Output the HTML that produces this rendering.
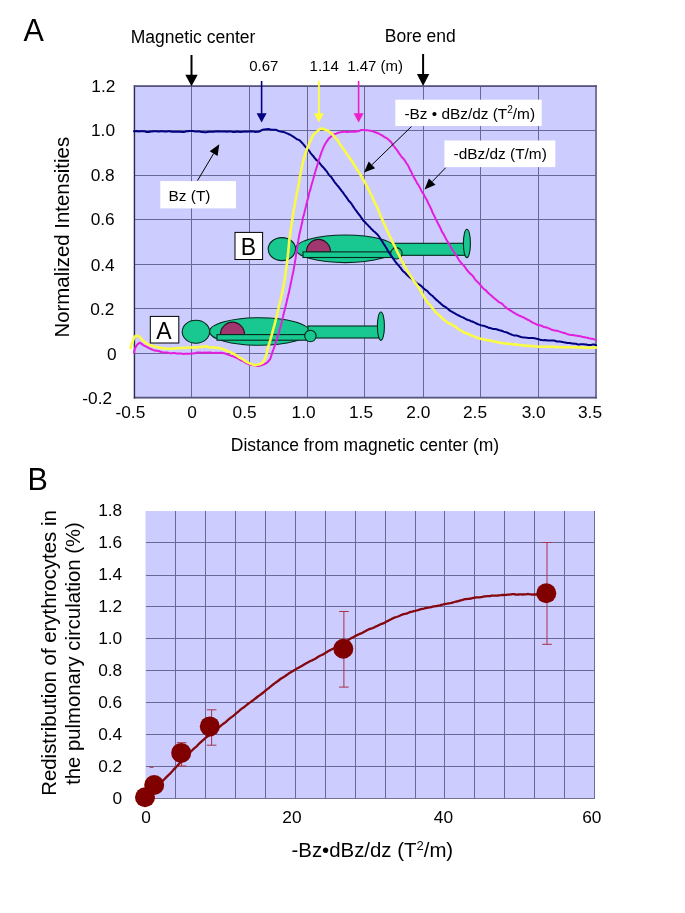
<!DOCTYPE html>
<html><head><meta charset="utf-8"><title>Figure</title>
<style>
html,body{margin:0;padding:0;background:#fff;}
body{width:685px;height:913px;overflow:hidden;}
svg{display:block;}
text{font-family:"Liberation Sans",Arial,Helvetica,sans-serif;fill:#000;}
.t16{font-size:17.3px;}
.t145{font-size:15px;}
</style></head><body>
<svg width="685" height="913" viewBox="0 0 685 913">
<rect width="685" height="913" fill="#fff"/>

<rect x="133.8" y="85.3" width="463.1" height="313.1" fill="#ccccff"/>
<g stroke="#26264e" stroke-width="1" opacity="0.6" shape-rendering="crispEdges">
<line x1="191.5" y1="86.1" x2="191.5" y2="397.7"/>
<line x1="249.5" y1="86.1" x2="249.5" y2="397.7"/>
<line x1="307.5" y1="86.1" x2="307.5" y2="397.7"/>
<line x1="364.5" y1="86.1" x2="364.5" y2="397.7"/>
<line x1="423.5" y1="86.1" x2="423.5" y2="397.7"/>
<line x1="480.5" y1="86.1" x2="480.5" y2="397.7"/>
<line x1="538.5" y1="86.1" x2="538.5" y2="397.7"/>
<line x1="134.0" y1="130.50" x2="596.0" y2="130.50"/>
<line x1="134.0" y1="175.50" x2="596.0" y2="175.50"/>
<line x1="134.0" y1="219.50" x2="596.0" y2="219.50"/>
<line x1="134.0" y1="264.50" x2="596.0" y2="264.50"/>
<line x1="134.0" y1="308.50" x2="596.0" y2="308.50"/>
<line x1="134.0" y1="353.50" x2="596.0" y2="353.50"/>
</g>
<line x1="596" y1="85.3" x2="596" y2="398.5" stroke="#66668a" stroke-width="1.7"/>
<line x1="133.8" y1="397.7" x2="596.9" y2="397.7" stroke="#55557a" stroke-width="1.8"/>
<line x1="134.45" y1="85.3" x2="134.45" y2="398.5" stroke="#2c2c4c" stroke-width="1.4"/>
<line x1="133.8" y1="86.2" x2="596.9" y2="86.2" stroke="#55557a" stroke-width="1.8"/>
<g transform="translate(0,0)" stroke="#04281a" stroke-width="1.1">
<ellipse cx="195.9" cy="331.8" rx="13.7" ry="11.5" fill="#19c891"/>
<ellipse cx="259.4" cy="331.5" rx="49.9" ry="13.8" fill="#19c891"/>
<path d="M220.4,334.7 A12.1,12.6 0 0 1 244.6,334.7 Z" fill="#a0376e" stroke="#2a1020"/>
<rect x="217" y="334.6" width="89.5" height="5.6" fill="#19c891"/>
<rect x="308" y="326" width="70.8" height="12" fill="#19c891"/>
<circle cx="310.4" cy="336" r="5.7" fill="#19c891"/>
<ellipse cx="380.9" cy="326.2" rx="3.5" ry="14.2" fill="#19c891"/>
</g>
<g transform="translate(86,-82.7)" stroke="#04281a" stroke-width="1.1">
<ellipse cx="195.9" cy="331.8" rx="13.7" ry="11.5" fill="#19c891"/>
<ellipse cx="259.4" cy="331.5" rx="49.9" ry="13.8" fill="#19c891"/>
<path d="M220.4,334.7 A12.1,12.6 0 0 1 244.6,334.7 Z" fill="#a0376e" stroke="#2a1020"/>
<rect x="217" y="334.6" width="89.5" height="5.6" fill="#19c891"/>
<rect x="308" y="326" width="70.8" height="12" fill="#19c891"/>
<circle cx="310.4" cy="336" r="5.7" fill="#19c891"/>
<ellipse cx="380.9" cy="326.2" rx="3.5" ry="14.2" fill="#19c891"/>
</g>
<g fill="none" stroke-linejoin="round" stroke-linecap="round">
<path d="M134.0,131.2 L135.5,131.3 L137.0,131.1 L138.5,131.4 L140.0,131.3 L141.5,131.2 L143.0,131.2 L144.5,131.2 L146.0,131.9 L147.5,132.0 L149.0,132.0 L150.5,131.5 L152.0,131.4 L153.5,131.3 L155.0,131.2 L156.5,131.3 L158.0,131.4 L159.5,131.5 L161.0,131.3 L162.5,131.3 L164.0,131.4 L165.5,131.5 L167.0,131.4 L168.5,131.3 L170.0,131.3 L171.5,131.7 L173.0,131.8 L174.5,131.8 L176.0,131.8 L177.5,131.7 L179.0,131.8 L180.5,131.8 L182.0,131.9 L183.5,131.9 L185.0,131.8 L186.5,131.2 L188.0,131.3 L189.5,131.0 L191.0,131.1 L192.5,131.0 L194.0,131.3 L195.5,131.5 L197.0,131.4 L198.5,131.4 L200.0,131.6 L201.5,132.0 L203.0,132.1 L204.5,132.2 L206.0,132.2 L207.5,132.0 L209.0,131.8 L210.5,131.7 L212.0,131.8 L213.5,131.8 L215.0,131.6 L216.5,131.5 L218.0,131.2 L219.5,131.4 L221.0,131.4 L222.5,131.6 L224.0,131.5 L225.5,131.4 L227.0,131.7 L228.5,131.5 L230.0,131.5 L231.5,131.6 L233.0,132.0 L234.4,131.9 L235.9,131.7 L237.4,131.6 L238.9,131.7 L240.4,132.0 L241.9,131.7 L243.4,131.8 L244.9,131.4 L246.4,131.7 L247.9,131.6 L249.4,131.6 L250.9,131.2 L252.5,131.4 L254.0,131.6 L255.5,131.9 L257.0,131.8 L258.5,131.7 L259.9,131.3 L261.3,130.4 L262.7,129.7 L264.1,129.6 L265.6,129.2 L267.1,129.2 L268.6,129.1 L270.1,129.4 L271.6,129.7 L273.1,129.8 L274.6,129.7 L276.1,129.8 L277.5,130.5 L279.0,131.1 L280.5,131.5 L281.9,131.7 L283.4,132.0 L284.8,132.4 L286.2,133.1 L287.6,133.5 L288.9,134.3 L290.3,134.8 L291.6,135.7 L292.9,136.4 L294.3,137.4 L295.6,138.3 L296.9,139.3 L298.0,139.5 L299.2,140.2 L300.3,140.9 L301.4,142.3 L302.4,143.1 L303.5,144.5 L304.5,145.7 L305.5,147.0 L306.5,147.8 L307.5,148.7 L308.5,150.0 L309.5,151.3 L310.4,152.8 L311.4,154.0 L312.3,155.2 L313.3,156.1 L314.2,157.5 L315.2,158.6 L316.2,159.9 L317.2,160.6 L318.2,161.6 L319.2,162.5 L320.2,163.9 L321.2,165.2 L322.2,166.4 L323.2,167.2 L324.1,168.4 L325.1,169.5 L326.0,170.6 L327.0,171.7 L327.9,173.3 L328.8,174.6 L329.7,175.7 L330.6,176.4 L331.5,177.4 L332.4,178.8 L333.4,180.2 L334.3,181.6 L335.2,182.8 L336.1,183.9 L337.0,185.1 L337.9,186.0 L338.8,187.1 L339.7,188.3 L340.7,189.6 L341.6,190.8 L342.5,191.9 L343.4,193.1 L344.3,194.5 L345.2,195.7 L346.1,196.9 L347.0,198.1 L347.9,199.5 L348.8,200.9 L349.8,201.7 L350.7,202.9 L351.6,203.9 L352.4,205.4 L353.3,206.6 L354.2,208.0 L355.1,209.3 L356.0,210.5 L356.9,211.7 L357.7,212.8 L358.6,214.0 L359.5,215.1 L360.4,216.2 L361.3,217.7 L362.2,218.9 L363.2,220.5 L364.1,221.3 L365.1,222.3 L366.0,223.2 L367.1,224.4 L368.1,225.4 L369.1,226.6 L370.2,227.5 L371.3,228.9 L372.4,229.8 L373.4,231.0 L374.5,231.8 L375.6,232.8 L376.6,233.7 L377.6,234.7 L378.6,236.0 L379.5,237.3 L380.4,238.7 L381.2,240.0 L382.1,241.3 L382.9,242.6 L383.6,243.8 L384.4,244.9 L385.1,245.9 L385.9,247.3 L386.7,248.4 L387.4,250.0 L388.2,251.2 L389.1,252.8 L389.9,254.0 L390.7,255.1 L391.6,256.3 L392.4,257.4 L393.3,258.8 L394.1,259.9 L395.0,261.2 L395.9,262.4 L396.8,263.5 L397.7,264.6 L398.7,265.5 L399.7,266.8 L400.6,267.8 L401.6,269.4 L402.6,270.7 L403.7,271.7 L404.7,272.6 L405.7,273.5 L406.8,274.7 L407.9,275.7 L409.0,276.7 L410.1,277.6 L411.3,278.5 L412.4,279.5 L413.6,280.7 L414.8,281.5 L416.0,282.5 L417.2,283.4 L418.5,284.2 L419.7,284.9 L420.9,285.7 L422.1,286.7 L423.2,288.0 L424.4,289.0 L425.5,289.9 L426.7,290.6 L427.8,291.5 L428.9,293.0 L430.0,294.0 L431.2,295.0 L432.3,295.8 L433.4,296.8 L434.5,298.1 L435.6,299.0 L436.7,300.2 L437.8,300.9 L438.9,302.1 L440.0,302.8 L441.1,304.0 L442.3,304.9 L443.5,306.0 L444.7,306.5 L445.9,307.3 L447.1,308.2 L448.4,309.3 L449.6,310.4 L450.9,311.2 L452.2,312.0 L453.5,312.7 L454.8,313.4 L456.1,314.1 L457.4,314.8 L458.7,315.5 L460.0,316.2 L461.4,316.9 L462.8,317.4 L464.1,318.0 L465.5,318.8 L466.8,319.5 L468.2,320.0 L469.6,320.4 L470.9,321.2 L472.3,321.5 L473.7,322.2 L475.1,322.8 L476.5,323.5 L477.9,324.2 L479.3,324.6 L480.7,325.2 L482.1,325.5 L483.5,325.7 L484.9,326.1 L486.4,326.8 L487.8,327.3 L489.3,328.0 L490.7,328.1 L492.2,328.8 L493.6,328.9 L495.1,329.0 L496.5,329.2 L498.0,329.7 L499.4,330.2 L500.8,330.5 L502.3,331.0 L503.7,331.6 L505.1,332.0 L506.6,332.3 L508.0,333.0 L509.4,333.7 L510.8,334.3 L512.3,334.9 L513.7,335.4 L515.1,335.5 L516.6,335.6 L518.0,335.9 L519.5,336.5 L521.0,337.0 L522.4,337.3 L523.9,337.4 L525.4,337.6 L526.9,337.7 L528.4,337.9 L529.8,337.9 L531.3,337.9 L532.8,338.1 L534.3,338.3 L535.8,338.6 L537.3,338.9 L538.8,339.2 L540.3,339.9 L541.8,340.1 L543.3,340.2 L544.8,340.1 L546.2,340.2 L547.7,340.4 L549.2,340.6 L550.7,340.6 L552.2,340.4 L553.7,340.6 L555.2,340.8 L556.7,341.5 L558.2,341.5 L559.7,341.6 L561.1,341.8 L562.6,342.0 L564.1,342.4 L565.6,342.6 L567.1,342.9 L568.6,343.1 L570.1,343.1 L571.6,343.4 L573.0,343.4 L574.5,343.7 L576.0,343.8 L577.5,344.4 L579.0,344.4 L580.5,344.3 L582.0,344.2 L583.5,344.3 L585.0,344.6 L586.5,344.6 L588.0,344.9 L589.5,344.9 L591.0,345.0 L592.5,344.6 L594.0,344.6 L595.5,344.9 L596.0,345.3" stroke="#000080" stroke-width="2.0"/>
<path d="M134.0,353.0 L134.2,351.2 L134.5,349.8 L135.0,348.5 L135.7,347.1 L136.4,345.9 L137.1,344.8 L138.2,343.8 L139.5,342.8 L140.7,343.2 L142.0,344.1 L143.2,345.2 L144.5,345.8 L145.8,346.4 L147.2,347.2 L148.6,347.9 L149.9,348.6 L151.3,349.2 L152.7,349.9 L154.2,350.3 L155.6,350.7 L157.0,350.7 L158.5,351.0 L160.0,351.5 L161.4,352.1 L162.9,352.4 L164.4,352.5 L165.9,352.6 L167.3,352.5 L168.8,352.9 L170.3,353.2 L171.8,353.3 L173.3,353.1 L174.8,353.1 L176.3,353.4 L177.8,353.6 L179.3,353.6 L180.8,353.6 L182.3,353.7 L183.8,353.9 L185.3,353.8 L186.8,353.8 L188.3,353.7 L189.8,353.7 L191.3,353.5 L192.8,353.5 L194.3,353.2 L195.8,353.2 L197.3,352.5 L198.8,352.6 L200.3,352.5 L201.8,352.7 L203.3,352.7 L204.8,352.6 L206.3,352.8 L207.8,352.6 L209.3,352.5 L210.8,352.6 L212.3,352.9 L213.8,352.9 L215.3,352.8 L216.8,352.7 L218.3,352.9 L219.8,352.8 L221.2,352.7 L222.7,352.9 L224.2,353.2 L225.6,353.8 L227.1,354.2 L228.5,354.9 L230.0,355.3 L231.4,355.9 L232.7,356.1 L234.1,356.9 L235.5,357.2 L236.8,358.0 L238.2,358.7 L239.5,359.5 L240.9,360.3 L242.2,360.7 L243.6,361.5 L245.0,362.3 L246.3,363.1 L247.7,363.8 L249.1,364.3 L250.5,364.7 L251.9,364.7 L253.4,365.2 L254.9,365.6 L256.4,366.0 L257.9,365.9 L259.4,365.7 L260.9,365.4 L262.5,364.9 L264.0,364.4 L265.4,363.7 L266.7,362.9 L267.7,362.0 L268.6,361.0 L269.3,360.2 L270.0,359.3 L270.6,357.9 L271.2,356.2 L271.8,354.0 L272.3,352.5 L272.8,350.9 L273.3,349.6 L273.9,348.3 L274.4,346.7 L274.9,345.4 L275.4,343.9 L275.8,342.5 L276.3,341.2 L276.8,339.9 L277.2,338.4 L277.7,336.7 L278.1,335.2 L278.5,333.9 L278.9,332.5 L279.3,330.9 L279.7,329.5 L280.1,328.2 L280.5,326.9 L280.8,325.5 L281.2,324.3 L281.6,322.9 L281.9,321.5 L282.3,319.9 L282.6,318.5 L283.0,317.0 L283.3,315.3 L283.7,313.7 L284.0,312.2 L284.4,311.1 L284.8,309.6 L285.1,308.2 L285.5,306.5 L285.8,305.3 L286.2,303.8 L286.6,302.2 L286.9,300.6 L287.3,299.1 L287.6,297.7 L288.0,296.2 L288.3,294.8 L288.7,293.6 L289.0,292.1 L289.3,290.6 L289.6,288.8 L290.0,287.5 L290.3,285.9 L290.6,284.3 L290.9,282.8 L291.2,281.5 L291.5,280.2 L291.8,278.6 L292.1,277.0 L292.4,275.6 L292.7,274.4 L293.0,273.0 L293.3,271.5 L293.6,269.9 L293.9,268.3 L294.1,266.7 L294.4,265.2 L294.7,263.9 L294.9,262.4 L295.1,260.8 L295.4,259.4 L295.6,258.2 L295.8,256.8 L296.0,255.2 L296.3,253.6 L296.5,252.2 L296.7,250.5 L296.9,249.2 L297.1,247.5 L297.4,246.4 L297.6,244.7 L297.8,243.3 L298.1,241.6 L298.4,240.2 L298.6,238.7 L298.9,237.2 L299.2,235.5 L299.5,234.0 L299.8,232.7 L300.1,231.4 L300.4,230.1 L300.7,228.7 L301.1,227.0 L301.4,225.5 L301.7,224.1 L302.1,222.9 L302.4,221.2 L302.7,219.0 L303.1,217.3 L303.4,216.3 L303.8,215.2 L304.1,213.9 L304.5,212.3 L304.8,210.8 L305.2,209.4 L305.5,208.0 L305.9,206.7 L306.2,205.3 L306.6,203.6 L307.0,202.2 L307.3,200.6 L307.7,199.4 L308.1,198.2 L308.5,196.8 L308.8,194.8 L309.2,193.0 L309.6,191.7 L310.0,190.7 L310.4,189.4 L310.8,187.8 L311.2,186.1 L311.6,184.7 L312.0,183.2 L312.4,182.0 L312.8,180.4 L313.2,179.2 L313.6,177.7 L314.0,176.4 L314.4,174.9 L314.8,173.3 L315.3,171.8 L315.7,170.2 L316.1,169.0 L316.6,167.7 L317.0,166.2 L317.5,164.6 L317.9,162.9 L318.3,161.5 L318.8,160.2 L319.2,158.8 L319.7,157.5 L320.2,156.1 L320.7,154.7 L321.2,153.0 L321.7,151.6 L322.3,150.3 L322.8,148.8 L323.4,147.5 L324.0,146.3 L324.6,145.1 L325.3,143.7 L326.1,142.5 L326.8,141.4 L327.7,140.1 L328.7,138.7 L329.9,137.5 L331.1,136.6 L332.3,135.4 L333.6,134.7 L334.9,134.0 L336.3,133.6 L337.7,132.9 L339.1,132.6 L340.5,132.3 L342.0,131.9 L343.5,131.7 L345.0,131.8 L346.5,131.9 L348.0,132.0 L349.5,131.8 L351.0,131.8 L352.5,131.8 L354.0,131.6 L355.5,131.7 L357.0,131.3 L358.5,131.3 L359.9,130.5 L361.3,130.0 L362.8,129.9 L364.3,130.0 L365.8,130.2 L367.3,130.2 L368.8,130.6 L370.2,130.7 L371.7,131.0 L373.1,131.4 L374.5,132.0 L376.0,132.5 L377.4,133.0 L378.8,133.6 L380.2,134.3 L381.6,135.1 L382.9,135.9 L384.2,136.9 L385.4,137.5 L386.6,138.2 L387.7,138.9 L388.8,139.9 L389.9,140.8 L390.9,142.0 L391.9,143.2 L392.8,144.9 L393.8,146.2 L394.7,147.2 L395.6,148.3 L396.4,149.3 L397.3,150.7 L398.2,151.9 L399.1,153.3 L400.1,154.7 L401.0,156.0 L402.0,157.3 L402.9,158.2 L403.8,159.2 L404.7,160.3 L405.6,161.7 L406.3,163.0 L407.1,164.1 L407.8,165.0 L408.5,166.4 L409.2,167.8 L409.8,169.3 L410.5,170.6 L411.2,171.7 L411.9,173.1 L412.5,174.6 L413.3,176.2 L414.0,177.5 L414.7,178.5 L415.4,180.0 L416.2,181.3 L416.9,182.7 L417.6,183.9 L418.4,184.9 L419.1,186.2 L419.8,187.4 L420.6,189.1 L421.3,190.6 L422.0,192.0 L422.8,193.0 L423.5,194.1 L424.2,195.3 L425.0,196.9 L425.7,198.1 L426.4,199.2 L427.1,200.5 L427.8,202.1 L428.5,203.7 L429.1,204.7 L429.8,206.2 L430.4,207.2 L431.0,208.8 L431.7,210.2 L432.3,211.9 L432.9,213.3 L433.5,214.3 L434.2,215.8 L434.8,217.0 L435.5,218.5 L436.1,219.7 L436.8,221.1 L437.5,222.5 L438.1,223.7 L438.8,225.0 L439.5,226.3 L440.2,227.7 L440.9,229.2 L441.5,230.7 L442.2,232.0 L442.9,233.2 L443.7,234.3 L444.4,235.7 L445.1,237.1 L445.8,238.5 L446.6,239.9 L447.3,241.1 L448.1,242.3 L448.8,243.7 L449.6,244.8 L450.3,246.2 L451.1,247.6 L451.9,248.9 L452.6,250.2 L453.4,251.1 L454.2,252.4 L455.0,253.5 L455.8,254.9 L456.7,256.2 L457.5,257.6 L458.4,259.1 L459.2,260.4 L460.1,261.7 L461.0,262.7 L461.9,263.8 L462.9,264.7 L463.8,265.7 L464.8,266.9 L465.8,268.3 L466.7,269.8 L467.7,270.8 L468.7,272.0 L469.7,273.0 L470.7,274.1 L471.7,274.8 L472.7,275.9 L473.6,277.1 L474.6,278.7 L475.5,280.0 L476.5,281.0 L477.5,281.8 L478.5,282.9 L479.5,284.0 L480.5,285.1 L481.5,286.3 L482.6,287.7 L483.6,288.8 L484.7,289.6 L485.8,290.3 L486.9,291.5 L488.0,292.8 L489.1,293.8 L490.3,294.7 L491.4,295.5 L492.5,296.8 L493.7,297.8 L494.8,298.7 L495.9,299.6 L497.1,300.6 L498.2,301.6 L499.4,302.3 L500.6,302.8 L501.8,303.6 L502.9,304.6 L504.1,305.9 L505.4,307.0 L506.6,308.1 L507.8,308.8 L509.1,309.6 L510.3,310.5 L511.6,311.2 L512.9,312.1 L514.2,312.8 L515.5,313.7 L516.8,314.5 L518.1,315.0 L519.5,315.8 L520.8,316.2 L522.1,316.9 L523.4,317.3 L524.8,318.2 L526.1,318.9 L527.5,319.7 L528.8,320.1 L530.2,321.0 L531.5,321.9 L532.9,322.7 L534.3,323.4 L535.6,323.8 L537.0,324.7 L538.4,325.0 L539.8,325.3 L541.2,325.8 L542.6,326.3 L544.0,327.0 L545.4,327.2 L546.8,327.5 L548.2,328.1 L549.6,328.6 L551.0,329.4 L552.5,330.0 L553.9,330.4 L555.3,330.4 L556.8,330.7 L558.2,331.1 L559.7,331.6 L561.1,332.1 L562.6,332.6 L564.0,332.9 L565.5,333.3 L566.9,333.9 L568.4,334.5 L569.9,334.8 L571.4,335.0 L572.8,335.0 L574.3,335.4 L575.8,335.4 L577.2,335.9 L578.7,336.0 L580.2,336.3 L581.6,336.6 L583.1,337.1 L584.6,337.3 L586.0,337.6 L587.5,337.8 L589.0,338.3 L590.5,338.6 L591.9,338.8 L593.4,339.1 L594.9,339.6 L596.0,339.9" stroke="#e41ede" stroke-width="2"/>
<path d="M130.6,347.9 L131.0,346.2 L131.4,344.7 L131.9,343.6 L132.4,342.4 L132.9,341.1 L133.4,339.4 L134.0,337.9 L134.8,336.7 L136.0,335.6 L137.3,335.7 L138.7,336.1 L139.8,337.1 L140.7,338.1 L141.7,339.6 L142.8,340.5 L144.0,341.5 L145.2,342.3 L146.4,343.4 L147.7,344.2 L149.0,344.8 L150.4,345.1 L151.8,345.5 L153.2,346.3 L154.7,346.6 L156.2,347.0 L157.7,347.1 L159.1,347.7 L160.6,347.9 L162.1,348.1 L163.6,348.2 L165.1,348.5 L166.6,348.5 L168.1,348.7 L169.6,348.7 L171.1,348.9 L172.6,348.6 L174.1,348.6 L175.6,348.3 L177.1,348.2 L178.6,348.0 L180.1,348.0 L181.6,348.1 L183.1,347.8 L184.6,348.0 L186.1,347.9 L187.6,347.7 L189.1,347.5 L190.6,347.5 L192.1,347.4 L193.6,347.4 L195.1,347.4 L196.6,347.5 L198.1,347.3 L199.6,347.0 L201.1,346.9 L202.6,346.8 L204.1,346.5 L205.6,346.4 L207.1,346.6 L208.6,347.2 L210.1,347.4 L211.6,347.5 L213.1,347.3 L214.6,347.5 L216.1,347.7 L217.6,347.9 L219.0,348.0 L220.5,348.3 L221.9,348.8 L223.4,349.2 L224.8,349.9 L226.2,350.6 L227.6,351.0 L229.0,351.7 L230.4,352.1 L231.7,353.1 L233.0,353.4 L234.3,354.2 L235.6,354.9 L236.9,355.8 L238.1,356.7 L239.4,357.6 L240.7,358.2 L242.0,358.9 L243.3,359.7 L244.6,360.7 L245.8,361.5 L247.1,362.2 L248.4,362.9 L249.8,363.4 L251.1,363.8 L252.6,364.4 L254.1,364.9 L255.5,365.2 L257.0,364.7 L258.6,364.5 L260.2,364.0 L261.6,363.3 L262.7,362.4 L263.5,361.3 L264.1,360.5 L264.7,359.4 L265.3,358.0 L265.7,356.5 L266.2,354.9 L266.6,353.4 L267.0,351.7 L267.4,350.0 L267.8,348.3 L268.2,346.8 L268.6,345.5 L269.1,344.0 L269.5,342.7 L269.9,341.2 L270.4,339.9 L270.8,338.1 L271.2,336.8 L271.6,335.5 L272.0,334.2 L272.4,332.7 L272.8,331.0 L273.2,329.5 L273.6,327.9 L274.0,326.6 L274.4,325.3 L274.8,323.6 L275.1,322.5 L275.5,320.9 L275.8,319.7 L276.2,318.0 L276.6,316.7 L276.9,315.3 L277.3,313.4 L277.6,311.7 L277.9,310.3 L278.3,309.1 L278.6,307.6 L279.0,305.8 L279.3,304.6 L279.7,303.3 L280.0,302.0 L280.4,300.4 L280.7,298.9 L281.1,297.4 L281.4,295.9 L281.7,294.5 L282.1,293.2 L282.4,291.9 L282.7,290.4 L283.0,288.8 L283.3,287.3 L283.6,285.7 L283.9,284.1 L284.1,282.8 L284.4,281.3 L284.6,280.0 L284.8,278.4 L285.1,276.9 L285.3,275.5 L285.5,274.0 L285.7,272.6 L285.9,271.1 L286.1,269.4 L286.3,267.7 L286.5,266.1 L286.7,264.6 L286.9,263.5 L287.1,262.1 L287.2,260.6 L287.4,259.0 L287.6,257.7 L287.8,256.4 L287.9,254.9 L288.1,253.3 L288.3,251.7 L288.4,250.1 L288.5,248.6 L288.7,247.2 L288.8,245.7 L289.0,244.0 L289.1,242.4 L289.3,240.6 L289.4,239.2 L289.6,238.1 L289.8,236.9 L290.0,235.4 L290.2,233.6 L290.4,232.0 L290.6,230.7 L290.8,229.2 L291.0,227.8 L291.2,226.3 L291.5,225.1 L291.7,223.5 L291.9,222.1 L292.2,220.5 L292.4,218.9 L292.6,217.3 L292.9,215.7 L293.1,214.4 L293.3,212.9 L293.6,211.3 L293.8,209.8 L294.1,208.5 L294.3,207.4 L294.6,206.0 L294.9,204.2 L295.1,202.5 L295.4,200.8 L295.7,199.5 L296.0,197.9 L296.3,196.5 L296.5,195.0 L296.8,193.7 L297.1,192.2 L297.4,190.9 L297.7,189.5 L298.0,188.1 L298.2,186.6 L298.5,185.2 L298.8,183.7 L299.1,182.0 L299.3,180.6 L299.6,179.1 L299.8,177.5 L300.1,176.0 L300.4,174.5 L300.6,173.1 L300.9,171.7 L301.2,170.3 L301.5,168.8 L301.8,167.3 L302.1,166.0 L302.4,164.3 L302.8,162.6 L303.2,161.2 L303.5,160.0 L303.9,158.4 L304.4,156.7 L304.8,155.2 L305.3,153.9 L305.7,152.7 L306.2,151.3 L306.7,150.0 L307.2,148.4 L307.8,147.1 L308.3,145.9 L308.9,144.5 L309.4,143.2 L310.0,141.7 L310.7,140.4 L311.4,138.9 L312.1,137.3 L312.8,135.9 L313.6,134.7 L314.5,133.8 L315.4,132.9 L316.5,131.9 L317.7,130.9 L318.9,129.8 L320.2,128.8 L321.7,128.5 L323.1,128.9 L324.6,129.5 L326.0,129.9 L327.3,130.5 L328.6,131.1 L329.8,132.2 L331.0,133.1 L332.1,134.2 L333.2,135.2 L334.2,136.4 L335.2,137.6 L336.1,138.6 L337.0,139.5 L337.9,140.7 L338.8,142.2 L339.7,143.9 L340.5,145.1 L341.4,146.3 L342.3,147.4 L343.1,148.5 L344.0,149.6 L344.8,150.9 L345.7,152.2 L346.6,153.7 L347.4,154.7 L348.3,156.0 L349.1,157.1 L350.0,158.4 L350.8,159.6 L351.6,160.6 L352.5,161.8 L353.3,163.4 L354.1,164.8 L354.9,166.2 L355.7,167.3 L356.5,168.6 L357.3,169.8 L358.1,171.0 L358.9,172.1 L359.7,173.4 L360.5,175.0 L361.3,176.3 L362.1,177.6 L362.8,179.0 L363.6,180.2 L364.3,181.3 L365.1,182.5 L365.8,184.0 L366.5,185.4 L367.2,186.7 L367.8,187.9 L368.5,189.3 L369.2,190.6 L369.8,192.1 L370.5,193.2 L371.1,194.5 L371.8,195.8 L372.4,197.2 L373.0,198.8 L373.7,200.1 L374.3,201.5 L374.9,202.8 L375.6,204.1 L376.2,205.3 L376.8,206.5 L377.4,207.9 L378.1,209.4 L378.7,210.9 L379.3,212.5 L379.9,214.0 L380.5,215.5 L381.1,216.9 L381.7,218.2 L382.3,219.6 L382.9,221.0 L383.4,222.3 L384.0,223.5 L384.6,224.9 L385.3,226.3 L385.9,227.8 L386.5,229.1 L387.1,230.5 L387.7,231.7 L388.4,233.1 L389.0,234.3 L389.6,235.8 L390.2,236.9 L390.9,238.4 L391.5,239.8 L392.2,241.4 L392.8,242.7 L393.4,244.0 L394.1,245.2 L394.7,246.4 L395.4,247.7 L396.0,249.1 L396.7,250.7 L397.4,251.9 L398.0,253.4 L398.7,254.5 L399.4,255.8 L400.0,257.1 L400.7,258.7 L401.4,260.1 L402.0,261.2 L402.7,262.4 L403.4,263.8 L404.1,265.3 L404.9,266.4 L405.6,267.6 L406.3,269.1 L407.1,270.6 L407.9,271.7 L408.7,273.2 L409.5,274.4 L410.4,275.8 L411.2,276.8 L412.1,278.1 L412.9,279.6 L413.8,280.9 L414.6,282.1 L415.5,283.1 L416.3,284.1 L417.1,285.4 L418.0,286.7 L418.8,288.0 L419.6,289.5 L420.4,290.7 L421.1,292.0 L421.9,293.2 L422.6,294.3 L423.3,295.6 L424.1,296.8 L424.8,298.4 L425.6,299.7 L426.5,300.9 L427.4,302.1 L428.3,303.2 L429.2,304.2 L430.2,305.2 L431.1,306.5 L432.1,307.7 L433.1,309.0 L434.1,310.2 L435.0,311.5 L436.1,312.7 L437.1,313.5 L438.2,314.4 L439.3,315.4 L440.4,316.5 L441.5,317.5 L442.7,318.6 L443.8,319.6 L445.0,320.5 L446.3,321.6 L447.5,322.6 L448.7,323.1 L450.0,323.8 L451.3,324.3 L452.6,325.1 L453.9,325.8 L455.2,326.6 L456.4,327.6 L457.6,328.5 L458.9,329.4 L460.1,330.1 L461.4,330.8 L462.7,331.7 L464.1,332.6 L465.4,333.0 L466.8,333.4 L468.2,333.8 L469.6,334.7 L471.1,335.3 L472.5,335.9 L473.9,336.4 L475.3,336.9 L476.7,337.5 L478.0,338.0 L479.4,338.4 L480.8,338.8 L482.3,339.1 L483.8,339.4 L485.3,339.7 L486.7,339.9 L488.2,340.4 L489.7,340.5 L491.2,340.7 L492.7,341.1 L494.1,341.6 L495.6,341.8 L497.1,342.0 L498.5,342.4 L500.0,342.7 L501.5,342.9 L503.0,343.3 L504.4,343.5 L505.9,343.7 L507.4,343.5 L508.9,343.6 L510.4,344.0 L511.9,344.2 L513.4,344.4 L514.9,344.2 L516.4,344.4 L517.9,344.8 L519.3,345.0 L520.8,345.2 L522.3,345.2 L523.8,345.5 L525.3,345.6 L526.8,345.9 L528.3,345.9 L529.8,345.9 L531.3,346.1 L532.8,346.1 L534.3,346.2 L535.8,346.3 L537.3,346.7 L538.8,346.7 L540.3,346.7 L541.8,346.7 L543.3,346.6 L544.8,346.7 L546.3,346.8 L547.8,346.9 L549.3,346.9 L550.8,346.8 L552.3,346.6 L553.8,346.8 L555.3,346.9 L556.8,347.2 L558.3,347.0 L559.8,347.0 L561.3,347.1 L562.8,347.4 L564.3,347.3 L565.8,347.3 L567.3,347.2 L568.8,347.3 L570.3,347.3 L571.8,347.3 L573.3,347.4 L574.8,347.3 L576.3,347.3 L577.8,347.4 L579.3,347.5 L580.8,347.4 L582.3,347.3 L583.8,347.4 L585.3,347.7 L586.8,347.7 L588.3,347.9 L589.8,347.7 L591.3,347.6 L592.8,347.5 L594.3,347.4 L595.8,347.6 L596.0,347.5" stroke="#fbfb46" stroke-width="2.6"/>
</g>
<rect x="150.3" y="316.4" width="28.5" height="26.6" fill="#fff" stroke="#000" stroke-width="1"/>
<text x="164" y="339" font-size="23" text-anchor="middle">A</text>
<rect x="235" y="232.4" width="27.6" height="27.1" fill="#fff" stroke="#000" stroke-width="1"/>
<text x="248.3" y="255.2" font-size="23" text-anchor="middle">B</text>
<rect x="160.3" y="181.1" width="75.7" height="27.3" fill="#fff"/>
<text x="168.6" y="200.6" font-size="15.4">Bz (T)</text>
<rect x="395.3" y="99.7" width="146.4" height="26.3" fill="#fff"/>
<text x="404.4" y="118.7" font-size="15.4">-Bz • dBz/dz (T<tspan font-size="10" dy="-5.5">2</tspan><tspan dy="5.5">/m)</tspan></text>
<rect x="444.4" y="140.5" width="110.9" height="26.6" fill="#fff"/>
<text x="453.6" y="158.9" font-size="15.4">-dBz/dz (T/m)</text>
<line x1="197.5" y1="180.6" x2="213.6" y2="153.6" stroke="#000" stroke-width="1"/><path d="M217.6,156.0 L209.7,151.3 L219.3,144.2 Z" fill="#000"/>
<line x1="411.5" y1="126.5" x2="371.9" y2="164.8" stroke="#000" stroke-width="1"/><path d="M368.7,161.5 L375.1,168.2 L364,172.5 Z" fill="#000"/>
<line x1="445.6" y1="167.8" x2="432.2" y2="181.6" stroke="#000" stroke-width="1"/><path d="M428.9,178.4 L435.5,184.8 L424.5,189.5 Z" fill="#000"/>
<text x="130.8" y="42.5" font-size="17.5">Magnetic center</text>
<text x="384.8" y="42.4" font-size="17.5">Bore end</text>
<line x1="191.5" y1="55" x2="191.5" y2="75.8" stroke="#000" stroke-width="2"/><path d="M185.3,74.8 L197.7,74.8 L191.5,86.3 Z" fill="#000"/>
<line x1="423.1" y1="54" x2="423.1" y2="75.10000000000001" stroke="#000" stroke-width="2"/><path d="M416.90000000000003,74.10000000000001 L429.3,74.10000000000001 L423.1,85.9 Z" fill="#000"/>
<text x="249.2" y="70.6" class="t145">0.67</text>
<text x="309.6" y="70.6" class="t145">1.14</text>
<text x="347.2" y="70.6" class="t145">1.47 (m)</text>
<line x1="261.6" y1="81" x2="261.6" y2="114.2" stroke="#000080" stroke-width="1.6"/><path d="M256.6,113.2 L266.6,113.2 L261.6,122.5 Z" fill="#000080"/>
<line x1="318.9" y1="81" x2="318.9" y2="114.2" stroke="#ffff40" stroke-width="1.8"/><path d="M313.9,113.2 L323.9,113.2 L318.9,122.5 Z" fill="#ffff40"/>
<line x1="358.6" y1="81" x2="358.6" y2="114.2" stroke="#f01ec8" stroke-width="1.6"/><path d="M353.6,113.2 L363.6,113.2 L358.6,122.5 Z" fill="#f01ec8"/>
<text x="23.5" y="41" font-size="30.5">A</text>
<text x="27.6" y="489.7" font-size="30.5">B</text>
<text x="115.4" y="92.3" class="t16" text-anchor="end">1.2</text>
<text x="115.0" y="136.2" class="t16" text-anchor="end">1.0</text>
<text x="114.7" y="181.2" class="t16" text-anchor="end">0.8</text>
<text x="114.7" y="225.2" class="t16" text-anchor="end">0.6</text>
<text x="114.7" y="270.9" class="t16" text-anchor="end">0.4</text>
<text x="114.4" y="315.0" class="t16" text-anchor="end">0.2</text>
<text x="116.7" y="359.6" class="t16" text-anchor="end">0</text>
<text x="112.1" y="403.8" class="t16" text-anchor="end">-0.2</text>
<text x="130.4" y="417.8" class="t16" text-anchor="middle">-0.5</text>
<text x="192" y="417.8" class="t16" text-anchor="middle">0</text>
<text x="244.6" y="417.8" class="t16" text-anchor="middle">0.5</text>
<text x="303.6" y="417.8" class="t16" text-anchor="middle">1.0</text>
<text x="361" y="417.8" class="t16" text-anchor="middle">1.5</text>
<text x="418.3" y="417.8" class="t16" text-anchor="middle">2.0</text>
<text x="475" y="417.8" class="t16" text-anchor="middle">2.5</text>
<text x="533.7" y="417.8" class="t16" text-anchor="middle">3.0</text>
<text x="590" y="417.8" class="t16" text-anchor="middle">3.5</text>
<text x="365" y="451.2" font-size="17.5" text-anchor="middle">Distance from magnetic center (m)</text>
<text transform="translate(69.1,237.2) rotate(-90)" font-size="20.4" text-anchor="middle">Normalized Intensities</text>
<rect x="145.5" y="511.0" width="449.20000000000005" height="287.5" fill="#ccccff"/>
<g stroke="#26264e" stroke-width="1" opacity="0.6" shape-rendering="crispEdges">
<line x1="175.50" y1="511.0" x2="175.50" y2="799.0"/>
<line x1="205.50" y1="511.0" x2="205.50" y2="799.0"/>
<line x1="235.50" y1="511.0" x2="235.50" y2="799.0"/>
<line x1="265.50" y1="511.0" x2="265.50" y2="799.0"/>
<line x1="295.50" y1="511.0" x2="295.50" y2="799.0"/>
<line x1="325.50" y1="511.0" x2="325.50" y2="799.0"/>
<line x1="355.50" y1="511.0" x2="355.50" y2="799.0"/>
<line x1="385.50" y1="511.0" x2="385.50" y2="799.0"/>
<line x1="415.50" y1="511.0" x2="415.50" y2="799.0"/>
<line x1="444.50" y1="511.0" x2="444.50" y2="799.0"/>
<line x1="474.50" y1="511.0" x2="474.50" y2="799.0"/>
<line x1="504.50" y1="511.0" x2="504.50" y2="799.0"/>
<line x1="534.50" y1="511.0" x2="534.50" y2="799.0"/>
<line x1="564.50" y1="511.0" x2="564.50" y2="799.0"/>
<line x1="594.50" y1="511.0" x2="594.50" y2="799.0"/>
<line x1="145.5" y1="542.50" x2="595.0" y2="542.50"/>
<line x1="145.5" y1="575.50" x2="595.0" y2="575.50"/>
<line x1="145.5" y1="606.50" x2="595.0" y2="606.50"/>
<line x1="145.5" y1="638.50" x2="595.0" y2="638.50"/>
<line x1="145.5" y1="670.50" x2="595.0" y2="670.50"/>
<line x1="145.5" y1="702.50" x2="595.0" y2="702.50"/>
<line x1="145.5" y1="734.50" x2="595.0" y2="734.50"/>
<line x1="145.5" y1="766.50" x2="595.0" y2="766.50"/>
<line x1="145.5" y1="798.50" x2="595.0" y2="798.50"/>
</g>
<g stroke="#a83248" stroke-width="1"><line x1="181.6" y1="742.7" x2="181.6" y2="766"/><line x1="176.79999999999998" y1="742.7" x2="186.4" y2="742.7"/><line x1="176.79999999999998" y1="766" x2="186.4" y2="766"/></g>
<g stroke="#a83248" stroke-width="1"><line x1="211.6" y1="709.8" x2="211.6" y2="745.2"/><line x1="206.79999999999998" y1="709.8" x2="216.4" y2="709.8"/><line x1="206.79999999999998" y1="745.2" x2="216.4" y2="745.2"/></g>
<g stroke="#a83248" stroke-width="1"><line x1="343.9" y1="611.5" x2="343.9" y2="687.1"/><line x1="339.09999999999997" y1="611.5" x2="348.7" y2="611.5"/><line x1="339.09999999999997" y1="687.1" x2="348.7" y2="687.1"/></g>
<g stroke="#a83248" stroke-width="1"><line x1="547" y1="542.5" x2="547" y2="644.3"/><line x1="542.2" y1="542.5" x2="551.8" y2="542.5"/><line x1="542.2" y1="644.3" x2="551.8" y2="644.3"/></g>
<line x1="149.5" y1="767.3" x2="153.5" y2="767.3" stroke="#a83248" stroke-width="1"/>
<path d="M145.0,797.4 L146.0,796.3 L147.1,795.3 L148.2,794.3 L149.2,793.3 L150.3,792.1 L151.4,791.0 L152.5,789.9 L153.5,788.9 L154.6,787.7 L155.7,786.8 L156.9,785.7 L158.0,784.8 L159.1,783.7 L160.3,782.8 L161.4,781.9 L162.6,780.9 L163.7,779.8 L164.8,778.8 L165.9,777.6 L166.9,776.6 L168.0,775.6 L169.0,774.7 L170.1,773.7 L171.1,772.6 L172.1,771.5 L173.1,770.3 L174.1,769.1 L175.1,768.1 L176.1,767.1 L177.1,766.0 L178.2,764.8 L179.2,763.7 L180.2,762.6 L181.3,761.5 L182.3,760.4 L183.3,759.2 L184.4,758.1 L185.4,757.1 L186.5,756.1 L187.5,755.2 L188.6,754.1 L189.6,752.9 L190.7,751.8 L191.7,750.8 L192.8,749.7 L193.9,748.7 L195.0,747.6 L196.1,746.9 L197.2,745.7 L198.3,744.5 L199.4,743.4 L200.5,742.4 L201.6,741.5 L202.8,740.3 L203.9,739.4 L205.1,738.3 L206.2,737.4 L207.4,736.6 L208.5,735.9 L209.7,735.0 L210.8,733.9 L212.0,733.0 L213.1,732.1 L214.3,731.3 L215.5,730.1 L216.6,729.1 L217.8,728.0 L219.0,727.2 L220.2,726.3 L221.3,725.3 L222.5,724.4 L223.7,723.5 L224.9,722.7 L226.0,721.8 L227.2,720.7 L228.4,719.7 L229.5,718.6 L230.7,717.7 L231.9,716.9 L233.0,716.1 L234.2,715.2 L235.4,714.0 L236.5,713.1 L237.7,712.1 L238.9,711.1 L240.0,710.0 L241.2,709.1 L242.4,708.2 L243.5,707.5 L244.7,706.6 L245.9,705.7 L247.1,704.6 L248.2,703.8 L249.4,702.9 L250.6,702.1 L251.8,701.1 L253.0,700.4 L254.2,699.4 L255.4,698.5 L256.6,697.5 L257.8,696.5 L259.0,695.7 L260.2,694.8 L261.4,694.0 L262.6,693.0 L263.7,692.2 L264.9,691.0 L266.1,690.1 L267.3,689.1 L268.5,688.3 L269.6,687.4 L270.8,686.4 L272.0,685.4 L273.1,684.5 L274.3,683.6 L275.5,682.7 L276.8,681.8 L278.0,681.0 L279.2,680.0 L280.4,679.0 L281.6,678.2 L282.9,677.6 L284.1,676.7 L285.4,676.0 L286.6,675.0 L287.9,674.2 L289.1,673.2 L290.4,672.5 L291.7,671.8 L292.9,671.1 L294.2,670.3 L295.5,669.5 L296.8,668.6 L298.1,667.9 L299.4,667.2 L300.7,666.5 L302.0,665.9 L303.3,665.0 L304.6,664.2 L305.9,663.4 L307.3,662.8 L308.6,662.0 L309.9,661.3 L311.2,660.7 L312.6,660.1 L313.9,659.4 L315.2,658.7 L316.5,657.9 L317.8,657.1 L319.1,656.2 L320.5,655.5 L321.8,655.0 L323.1,654.4 L324.4,653.6 L325.7,652.7 L327.0,651.9 L328.4,651.1 L329.7,650.4 L331.0,649.8 L332.3,649.0 L333.6,648.5 L334.9,647.8 L336.2,647.3 L337.6,646.5 L338.9,645.7 L340.2,644.8 L341.5,644.0 L342.8,643.2 L344.1,642.7 L345.4,641.9 L346.7,641.1 L348.0,640.2 L349.2,639.4 L350.5,638.6 L351.8,637.9 L353.1,637.3 L354.4,636.6 L355.7,635.8 L357.1,635.1 L358.4,634.5 L359.8,633.9 L361.1,633.4 L362.5,632.8 L363.8,632.0 L365.2,631.2 L366.6,630.4 L367.9,629.8 L369.3,629.1 L370.7,628.7 L372.1,628.3 L373.4,627.7 L374.8,627.1 L376.2,626.3 L377.6,625.8 L379.0,625.0 L380.4,624.4 L381.7,623.8 L383.1,623.3 L384.5,622.8 L385.8,622.1 L387.1,621.3 L388.5,620.6 L389.8,619.9 L391.1,619.3 L392.5,618.5 L393.8,617.9 L395.2,617.3 L396.5,617.0 L397.9,616.5 L399.3,616.0 L400.7,615.3 L402.2,614.6 L403.6,614.1 L405.0,613.8 L406.5,613.7 L407.9,613.0 L409.4,612.4 L410.8,611.8 L412.3,611.6 L413.7,611.2 L415.1,610.9 L416.6,610.5 L418.0,610.1 L419.5,609.6 L420.9,609.2 L422.4,608.8 L423.9,608.6 L425.3,608.2 L426.8,607.9 L428.2,607.6 L429.7,607.4 L431.2,607.1 L432.6,606.7 L434.1,606.4 L435.6,606.1 L437.0,606.0 L438.5,605.7 L440.0,605.4 L441.4,604.9 L442.9,604.5 L444.3,604.2 L445.8,603.9 L447.3,603.7 L448.7,603.3 L450.2,603.1 L451.7,602.8 L453.1,602.4 L454.6,602.0 L456.1,601.5 L457.5,601.3 L459.0,600.8 L460.5,600.5 L461.9,600.0 L463.4,599.7 L464.9,599.2 L466.3,599.1 L467.8,598.9 L469.3,598.8 L470.8,598.5 L472.2,598.2 L473.7,597.8 L475.2,597.5 L476.7,597.4 L478.2,597.4 L479.7,597.3 L481.1,597.1 L482.6,596.9 L484.1,596.4 L485.6,596.3 L487.1,596.2 L488.6,596.1 L490.1,596.0 L491.6,595.7 L493.1,595.6 L494.6,595.6 L496.1,595.6 L497.6,595.5 L499.1,595.3 L500.6,595.2 L502.1,595.0 L503.5,595.0 L505.0,594.9 L506.5,594.9 L508.0,594.6 L509.5,594.6 L511.0,594.3 L512.5,594.1 L514.0,594.2 L515.5,594.5 L517.0,594.6 L518.5,594.5 L520.0,594.4 L521.5,594.4 L523.0,594.5 L524.5,594.4 L526.0,594.4 L527.5,594.0 L529.0,594.2 L530.5,594.3 L532.0,594.7 L533.5,594.5 L535.0,594.5 L536.5,594.4 L538.0,594.5 L539.5,594.6 L541.0,594.8 L542.5,594.9 L544.0,594.7 L545.5,594.6 L546.0,594.4" fill="none" stroke="#86080f" stroke-width="2.3" stroke-linejoin="round"/>
<circle cx="145" cy="797.3" r="10" fill="#800000"/>
<circle cx="154.2" cy="785" r="10" fill="#800000"/>
<circle cx="181.2" cy="752.9" r="10" fill="#800000"/>
<circle cx="209.8" cy="726.4" r="10" fill="#800000"/>
<circle cx="343.3" cy="648.7" r="10" fill="#800000"/>
<circle cx="546.3" cy="593.2" r="10" fill="#800000"/>
<text x="122.2" y="516.1" class="t16" text-anchor="end">1.8</text>
<text x="122.2" y="548.1" class="t16" text-anchor="end">1.6</text>
<text x="122.2" y="580.0" class="t16" text-anchor="end">1.4</text>
<text x="122.2" y="612.0" class="t16" text-anchor="end">1.2</text>
<text x="122.2" y="643.9" class="t16" text-anchor="end">1.0</text>
<text x="122.2" y="675.9" class="t16" text-anchor="end">0.8</text>
<text x="122.2" y="707.8" class="t16" text-anchor="end">0.6</text>
<text x="122.2" y="739.8" class="t16" text-anchor="end">0.4</text>
<text x="122.2" y="771.7" class="t16" text-anchor="end">0.2</text>
<text x="122.2" y="803.6" class="t16" text-anchor="end">0</text>
<text x="146" y="822.8" class="t16" text-anchor="middle">0</text>
<text x="291.9" y="822.8" class="t16" text-anchor="middle">20</text>
<text x="443.4" y="822.8" class="t16" text-anchor="middle">40</text>
<text x="591.8" y="822.8" class="t16" text-anchor="middle">60</text>
<text x="291.5" y="856.9" font-size="20.4">-Bz•dBz/dz (T<tspan font-size="13" dy="-7">2</tspan><tspan dy="7">/m)</tspan></text>
<text transform="translate(55.6,653) rotate(-90)" font-size="20.4" text-anchor="middle">Redistribution of erythrocytes in</text>
<text transform="translate(79.9,653.5) rotate(-90)" font-size="20.3" text-anchor="middle">the pulmonary circulation (%)</text>
</svg></body></html>
